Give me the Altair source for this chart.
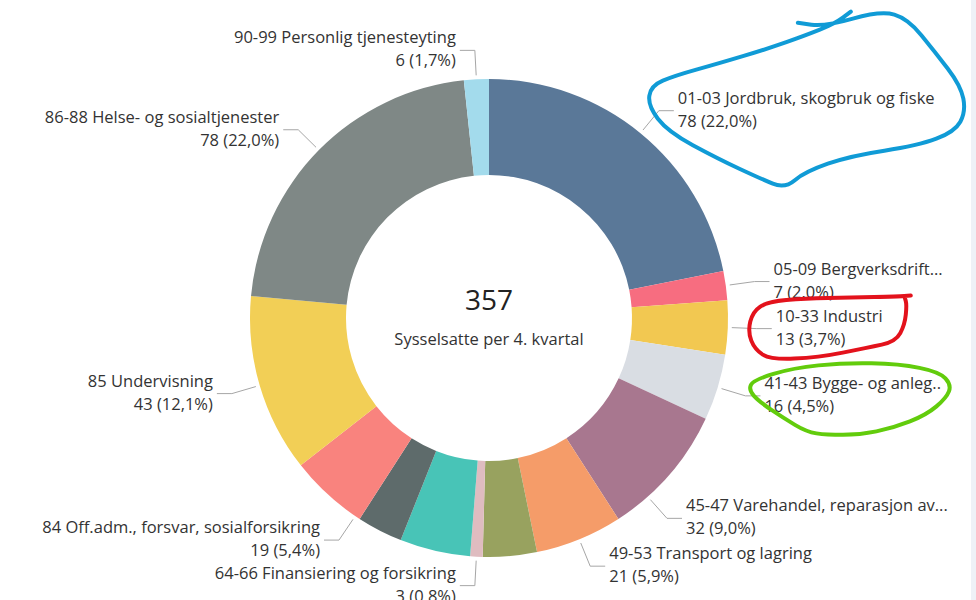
import altair as alt
import pandas as pd

# ---------------- data ----------------
categories = [
    "01-03 Jordbruk, skogbruk og fiske",
    "05-09 Bergverksdrift...",
    "10-33 Industri",
    "41-43 Bygge- og anleg..",
    "45-47 Varehandel, reparasjon av...",
    "49-53 Transport og lagring",
    "55-56 Overnatting og servering",
    "64-66 Finansiering og forsikring",
    "68-75 Faglig, vitenskapelig og teknisk tjenesteyting",
    "77-82 Forretningsmessig tjenesteyting",
    "84 Off.adm., forsvar, sosialforsikring",
    "85 Undervisning",
    "86-88 Helse- og sosialtjenester",
    "90-99 Personlig tjenesteyting",
]
values = [78, 7, 13, 16, 32, 21, 13, 3, 17, 11, 19, 43, 78, 6]
percent_labels = ["22,0", "2,0", "3,7", "4,5", "9,0", "5,9", "3,6", "0,8",
                  "4,8", "3,1", "5,4", "12,1", "22,0", "1,7"]
shown = [True, True, True, True, True, True, False, True, False, False,
         True, True, True, True]
colors = ["#5a7898", "#f76d80", "#f2c851", "#d9dde3", "#a8778f", "#f59c69",
          "#98a25f", "#dfbcc0", "#48c4b7", "#5e6b6b", "#f9837e", "#f2cf56",
          "#7f8886", "#a3dbec"]
center_subtitle = "Sysselsatte per 4. kvartal"

df = pd.DataFrame({
    "cat": categories,
    "value": values,
    "pct": percent_labels,
    "shown": shown,
    "idx": list(range(len(categories))),
})

# ---------------- geometry / style ----------------
CX, CY = 489, 318
R_OUT, R_IN = 239, 143
R0, R1 = R_OUT + 4, R_OUT + 29
ELBOW = 15
GAP = 4
CHAR_W = 8.0          # estimated label glyph width, used to keep labels inside
LIMIT_R, LIMIT_L = 958, 16
FONT = "Open Sans"
FS = 16.5
TXT = "#333333"
LINE = "#a6a6a6"

# hand-drawn annotation outlines (pixel offsets from label anchor)
blue_pts = [(120, -88), (147, -84), (203, -100), (230, -92), (257, -59),
            (283, -25), (288, 1), (277, 21), (240, 35), (173, 45), (127, 61),
            (107, 78), (83, 68), (40, 48), (-10, 21), (-30, -5), (-27, -25),
            (-3, -35), (40, -47), (90, -62), (127, -75), (157, -87), (173, -99)]
red_pts = [(135, -33), (122, -32), (75, -31), (29, -30), (-8, -27), (-23, -17),
           (-28, 3), (-21, 21), (-5, 31), (42, 29), (92, 19), (120, 13),
           (129, -4), (131, -24), (129, -31)]
green_pts = [(-11, -16), (29, -28), (79, -33), (135, -32), (175, -24),
             (187, -11), (182, 2), (162, 19), (129, 32), (95, 39), (62, 39),
             (42, 36), (19, 22), (-5, 6), (-16, -6)]


def smooth_path(pts, closed=False):
    def mid(a, b):
        return ((a[0] + b[0]) / 2, (a[1] + b[1]) / 2)
    n = len(pts)
    if closed:
        m0 = mid(pts[-1], pts[0])
        d = f"M{m0[0]:.1f},{m0[1]:.1f}"
        for i in range(n):
            p = pts[i]
            m = mid(pts[i], pts[(i + 1) % n])
            d += f" Q{p[0]:.1f},{p[1]:.1f} {m[0]:.1f},{m[1]:.1f}"
        return d + " Z"
    d = f"M{pts[0][0]:.1f},{pts[0][1]:.1f}"
    m = mid(pts[0], pts[1])
    d += f" L{m[0]:.1f},{m[1]:.1f}"
    for i in range(1, n - 1):
        p = pts[i]
        m = mid(pts[i], pts[i + 1])
        d += f" Q{p[0]:.1f},{p[1]:.1f} {m[0]:.1f},{m[1]:.1f}"
    d += f" L{pts[-1][0]:.1f},{pts[-1][1]:.1f}"
    return d


# ---------------- chart ----------------
base = alt.Chart(df)

donut = base.mark_arc(innerRadius=R_IN, outerRadius=R_OUT).encode(
    theta=alt.Theta("value:Q", stack=True),
    order=alt.Order("idx:Q"),
    color=alt.Color("cat:N", scale=alt.Scale(domain=categories, range=colors),
                    legend=None),
    x=alt.value(CX),
    y=alt.value(CY),
)

geo = (
    base.transform_joinaggregate(total="sum(value)")
    .transform_window(cum="sum(value)", sort=[alt.SortField("idx")],
                      frame=[None, 0])
    .transform_calculate(
        mid="(datum.cum - datum.value/2) / datum.total * 2 * PI",
        side="sin(datum.mid) >= 0 ? 1 : -1",
        w=f"length(datum.cat) * {CHAR_W}",
        smax=f"({LIMIT_R} - datum.w - {ELBOW + GAP} - {CX}) / {R1}",
        smin=f"({LIMIT_L} + datum.w + {ELBOW + GAP} - {CX}) / {R1}",
    )
    .transform_calculate(
        ang=(
            "datum.side > 0 ? "
            "(sin(datum.mid) > datum.smax ? "
            "(datum.mid <= PI/2 ? asin(datum.smax) : PI - asin(datum.smax)) "
            ": datum.mid) : "
            "(sin(datum.mid) < datum.smin ? "
            "(datum.mid <= 3*PI/2 ? PI - asin(datum.smin) : 2*PI + asin(datum.smin)) "
            ": datum.mid)"
        )
    )
    .transform_calculate(
        s="sin(datum.ang)",
        c="cos(datum.ang)",
    )
    .transform_calculate(
        x0=f"{CX} + {R0} * datum.s",
        y0=f"{CY} - {R0} * datum.c",
        x1=f"{CX} + {R1} * datum.s",
        y1=f"{CY} - {R1} * datum.c",
    )
    .transform_calculate(
        x2=f"datum.x1 + datum.side * {ELBOW}",
        tx=f"datum.x1 + datum.side * {ELBOW + GAP}",
        vlabel="datum.value + ' (' + datum.pct + '%)'",
    )
    .transform_filter("datum.shown")
)

X = lambda f: alt.X(f, scale=None, axis=None)
Y = lambda f: alt.Y(f, scale=None, axis=None)

radial = geo.mark_rule(color=LINE, strokeWidth=1).encode(
    x=X("x0:Q"), y=Y("y0:Q"), x2="x1:Q", y2="y1:Q")
horiz = geo.mark_rule(color=LINE, strokeWidth=1).encode(
    x=X("x1:Q"), y=Y("y1:Q"), x2="x2:Q", y2="y1:Q")

text_layers = []
for side, align in ((1, "left"), (-1, "right")):
    sub = geo.transform_filter(f"datum.side == {side}")
    text_layers.append(sub.mark_text(align=align, baseline="middle", dy=-12,
                                     font=FONT, fontSize=FS, color=TXT).encode(
        x=X("tx:Q"), y=Y("y1:Q"), text="cat:N"))
    text_layers.append(sub.mark_text(align=align, baseline="middle", dy=11,
                                     font=FONT, fontSize=FS, color=TXT).encode(
        x=X("tx:Q"), y=Y("y1:Q"), text="vlabel:N"))

annotations = []
for cat, pts, col, closed in (
    (categories[0], blue_pts, "#109bd6", False),
    (categories[2], red_pts, "#e3121c", False),
    (categories[3], green_pts, "#62cc0c", True),
):
    annotations.append(
        geo.transform_filter(alt.datum.cat == cat).mark_point(
            shape=smooth_path(pts, closed), size=4, filled=False,
            stroke=col, strokeWidth=4, opacity=1,
            strokeCap="round", strokeJoin="round",
        ).encode(x=X("tx:Q"), y=Y("y1:Q"))
    )

totals = base.transform_aggregate(total="sum(value)").transform_calculate(
    subtitle=f"'{center_subtitle}'")
center_num = totals.mark_text(font=FONT, fontSize=28, color="#222222",
                              baseline="middle").encode(
    text="total:Q", x=alt.value(CX), y=alt.value(302))
center_sub = totals.mark_text(font=FONT, fontSize=FS, color=TXT,
                              baseline="middle").encode(
    text="subtitle:N", x=alt.value(CX), y=alt.value(340))

strip = totals.mark_rect(color="#eef1f7").encode(
    x=alt.value(971), x2=alt.value(976), y=alt.value(0), y2=alt.value(600))

chart = alt.layer(
    strip, donut, radial, horiz, *text_layers, center_num, center_sub,
    *annotations,
).properties(
    width=976, height=600, padding=0, autosize="none", background="white",
).configure_view(stroke=None)

chart.save("out.html", embed_options={"renderer": "svg", "actions": False})
